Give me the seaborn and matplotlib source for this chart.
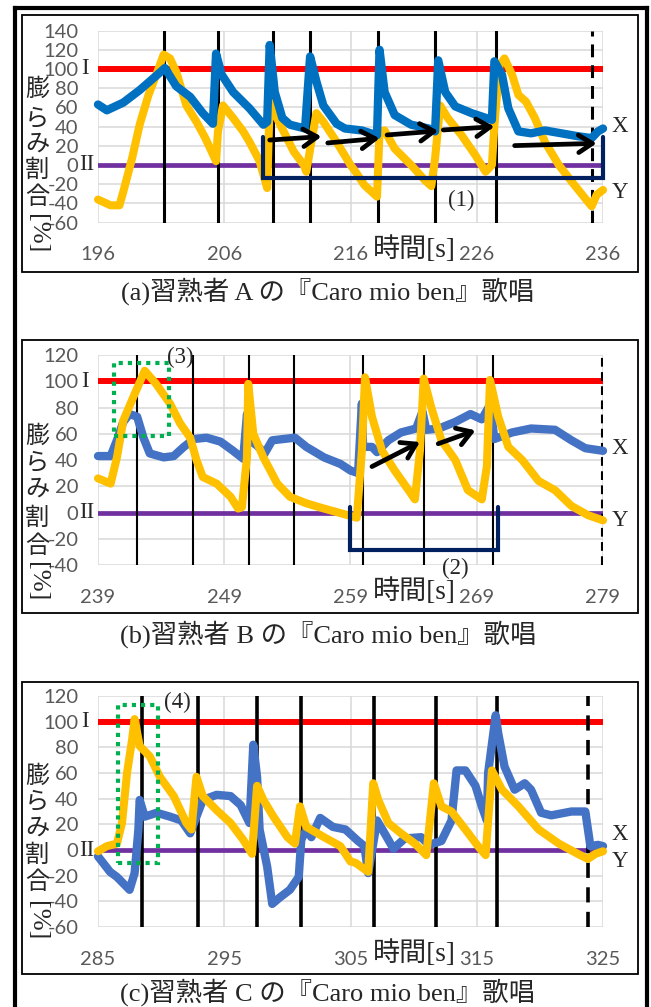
import numpy as np
import pandas as pd
import matplotlib
matplotlib.use("Agg")
import matplotlib.pyplot as plt
import seaborn as sns
from matplotlib.patches import Rectangle
from matplotlib.lines import Line2D

# ---------------- data ----------------
# Panel (a)
a_blue_t = [196.0, 196.7, 198.0, 199.3, 200.7, 201.3, 202.2, 203.3, 204.3, 205.1, 205.35, 205.8, 206.7, 208.0,
            209.1, 209.4, 209.6, 210.0, 210.6, 211.2, 212.4, 212.8, 213.3, 213.85, 214.9, 215.56, 216.9, 218.1,
            218.3, 218.7, 219.5, 220.8, 222.2, 222.7, 222.95, 223.5, 224.3, 225.6, 227.2, 227.4, 228.0, 228.5,
            229.3, 230.3, 231.4, 232.7, 234.0, 235.1, 235.6, 236.0]
a_blue_v = [63, 57, 65, 78, 94, 101, 82, 71, 54, 43, 116, 94, 76, 59,
            42, 45, 125, 76, 49, 42, 38, 113, 87, 62, 43, 38, 36, 31,
            120, 76, 52, 42, 38, 35, 109, 76, 61, 54, 47, 108, 94, 59,
            35, 33, 36, 33, 30, 28, 35, 38]
a_yel_t = [196.0, 197.0, 197.7, 198.0, 198.7, 199.3, 200.0, 200.7, 201.2, 201.7, 202.2, 203.0, 203.8, 204.5,
           205.0, 205.35, 205.5, 205.9, 206.7, 207.5, 208.0, 208.8, 209.4, 209.6, 209.9, 210.7, 211.5, 212.3,
           212.5, 212.9, 213.3, 213.85, 214.9, 216.0, 216.4, 217.1, 218.1, 218.3, 218.7, 219.5, 220.8, 221.9,
           222.4, 222.7, 223.1, 223.7, 224.8, 225.9, 226.7, 227.2, 227.4, 227.8, 228.2, 228.8, 229.3, 229.9,
           230.6, 231.4, 232.5, 233.5, 234.6, 235.1, 235.5, 236.0]
a_yel_v = [-36, -42, -42, -28, 7, 42, 73, 97, 115, 111, 97, 62, 45, 28,
           14, 4, 35, 62, 49, 35, 24, 4, -24, 66, 56, 35, 14, 0,
           -7, 24, 54, 45, 24, 0, -7, -21, -33, 35, 36, 17, 0, -16,
           -22, 7, 62, 49, 31, 10, -7, 0, 42, 104, 111, 94, 73, 66,
           49, 24, 0, -17, -35, -43, -31, -26]
a_marks = [201.2, 205.5, 209.85, 212.8, 218.15, 222.7, 227.55]
a_end = 235.1

# Panel (b)
b_blue_t = [239.0, 240.0, 240.5, 241.0, 241.5, 242.1, 242.6, 243.1, 244.2, 245.0, 245.8, 246.6, 247.6, 248.7,
            249.7, 250.5, 250.8, 251.0, 251.6, 252.2, 252.8, 253.7, 254.6, 255.5, 256.9, 258.2, 259.0, 259.6,
            259.9, 260.0, 260.7, 261.1, 262.0, 263.0, 264.2, 264.7, 265.0, 266.0, 267.3, 268.5, 269.4, 270.05,
            270.4, 271.8, 273.3, 275.2, 276.5, 277.6, 279.0]
b_blue_v = [43, 43, 55, 69, 75, 73, 57, 45, 42, 43, 50, 56, 57, 54,
            47, 41, 75, 55, 51, 45, 55, 56, 57, 50, 42, 37, 32, 30,
            83, 50, 50, 46, 55, 61, 64, 77, 63, 64, 69, 75, 71, 82,
            56, 61, 64, 63, 55, 49, 47]
b_yel_t = [239.0, 240.0, 240.5, 241.0, 241.8, 242.7, 243.6, 244.7, 245.5, 246.3, 246.8, 247.3, 248.4, 249.5,
           250.1, 250.4, 250.8, 250.9, 251.3, 252.1, 253.2, 254.2, 255.5, 256.9, 258.4, 259.5, 259.9, 260.15,
           260.7, 261.5, 262.5, 263.6, 264.1, 264.5, 264.8, 265.4, 266.2, 267.3, 268.3, 269.4, 269.8, 270.05,
           270.7, 271.5, 272.6, 273.9, 275.2, 276.5, 277.8, 279.0]
b_yel_v = [26, 22, 42, 70, 88, 108, 98, 83, 68, 57, 40, 27, 22, 12,
           3, 4, 42, 98, 60, 42, 22, 12, 7, 3, -1, -4, 47, 103,
           73, 47, 32, 17, 10, 47, 102, 80, 55, 40, 17, 10, 35, 101,
           73, 50, 40, 24, 17, 5, -2, -6]
b_marks = [242.07, 246.55, 250.99, 254.53, 260.01, 264.82, 270.26]
b_end = 278.9

# Panel (c)
c_blue_t = [285.0, 285.4, 285.95, 286.5, 287.0, 287.5, 287.9, 288.2, 288.3, 288.7, 289.65, 290.7, 291.6, 292.3,
            292.8, 293.3, 294.4, 295.5, 296.3, 297.0, 297.3, 297.6, 297.8, 298.4, 298.8, 299.4, 300.2, 300.9,
            301.1, 301.5, 301.9, 302.6, 303.6, 304.6, 305.6, 306.1, 306.4, 306.8, 307.1, 307.7, 308.4, 309.3,
            310.6, 311.2, 312.2, 313.0, 313.4, 314.1, 314.9, 315.4, 315.8, 315.9, 316.5, 316.7, 317.2, 318.0,
            318.8, 319.3, 320.1, 320.9, 322.5, 323.6, 324.0, 324.6, 325.0]
c_blue_v = [-5, -10, -17, -21, -26, -31, -18, 16, 39, 26, 29, 26, 23, 13,
            26, 39, 43, 42, 35, 21, 82, 57, 16, -13, -42, -37, -31, -21,
            8, 16, 10, 25, 18, 16, 7, 3, -18, 5, 23, 13, 1, 9,
            10, 4, 7, 23, 62, 62, 50, 34, 23, 60, 105, 91, 65, 47,
            52, 47, 29, 27, 30, 30, 3, 4, 3]
c_yel_t = [285.0, 285.7, 286.5, 286.9, 287.3, 287.7, 287.9, 288.3, 289.1, 289.9, 291.0, 292.0, 292.4, 292.8,
           293.3, 294.4, 295.5, 296.5, 297.2, 297.6, 298.1, 298.9, 300.0, 300.6, 301.0, 301.5, 302.9, 304.2,
           305.0, 305.4, 306.4, 306.8, 307.2, 308.0, 309.0, 310.1, 311.0, 311.6, 312.2, 313.0, 314.1, 315.1,
           315.7, 316.2, 317.0, 318.3, 319.9, 321.5, 323.0, 323.8, 324.4, 325.0]
c_yel_v = [-1, 3, 5, 21, 60, 86, 102, 81, 73, 57, 42, 21, 16, 57,
           42, 31, 21, 8, -3, 50, 39, 26, 10, 5, 34, 18, 10, 3,
           -9, -10, -17, 52, 39, 21, 13, 5, -4, 52, 34, 30, 16, 3,
           -4, 62, 47, 34, 16, 5, -3, -7, -3, -1]
c_marks = [288.52, 292.95, 297.57, 301.06, 306.88, 311.74, 316.57]
c_end = 323.78

a_yticks = [140, 120, 100, 80, 60, 40, 20, 0, -20, -40, -60]
a_ylabels = ["140", "120", "100", "80", "60", "40", "20", "0", "-20", "-40", "-60"]
b_yticks = [120, 100, 80, 60, 40, 20, 0, -20, -40]
b_ylabels = ["120", "100", "80", "60", "40", "20", "0", "-20", "-40"]
c_yticks = [120, 100, 80, 60, 40, 20, 0, -20, -40, -60]
c_ylabels = ["120", "100", "80", "60", "40", "20", "0", "-20", "-40", "-60"]
a_xticks = [196, 206, 216, 226, 236]
b_xticks = [239, 249, 259, 269, 279]
c_xticks = [285, 295, 305, 315, 325]

captions = ["(a)習熟者 A の『Caro mio ben』歌唱",
            "(b)習熟者 B の『Caro mio ben』歌唱",
            "(c)習熟者 C の『Caro mio ben』歌唱"]
ylabel_chars = ["膨", "ら", "み", "割", "合"]

# ---------------- style ----------------
sns.set_style("white")
SERIF = ["Liberation Serif", "Noto Sans CJK JP"]
plt.rcParams["font.family"] = SERIF

W, H = 651, 1007
fig = plt.figure(figsize=(W / 100, H / 100), dpi=100)


def fx(px):
    return px / W


def fy(py):
    return 1 - py / H


BLUE_A = "#0070C0"
BLUE_BC = "#4472C4"
YEL = "#FFC000"
RED = "#FF0000"
PURP = "#7030A0"
NAVY = "#002060"
GREEN = "#00B050"
GRAY = "#595959"


def panel(top_px, bot_px, xticks, yticks, ylabels, bt, bv, yt, yv, blue, marks, end,
          mark_lw, blue_on_top, xy_lab, ychar_py, cap_py, caption, box):
    ax = fig.add_axes([fx(98), fy(bot_px), fx(603) - fx(98), (bot_px - top_px) / H])
    ax.set_xlim(xticks[0], xticks[-1])
    ax.set_ylim(yticks[-1], yticks[0])
    ax.set_xticks(xticks)
    ax.set_xticklabels([str(t) for t in xticks])
    ax.set_yticks(yticks)
    ax.set_yticklabels(ylabels)
    ax.grid(True, color="#D9D9D9", lw=1.1)
    ax.set_axisbelow(True)
    for s in ax.spines.values():
        s.set_visible(False)
    ax.tick_params(axis="y", length=0, pad=14, labelsize=14.5, labelcolor=GRAY)
    ax.tick_params(axis="x", length=0, pad=17, labelsize=14.5, labelcolor=GRAY)
    for lab in ax.get_xticklabels() + ax.get_yticklabels():
        lab.set_fontfamily("Lato")
    ax.axhline(100, color=RED, lw=4.3, zorder=2)
    ax.axhline(0, color=PURP, lw=3.4, zorder=2)
    for m in marks:
        ax.axvline(m, color="black", lw=mark_lw, zorder=2.5)
    ax.axvline(end, color="black", lw=mark_lw, ls=(0, (4.2, 2.6)), zorder=2.5)

    dfb = pd.DataFrame({"t": bt, "v": bv})
    dfy = pd.DataFrame({"t": yt, "v": yv})
    zb, zy = (3.2, 3.0) if blue_on_top else (3.0, 3.2)
    sns.lineplot(data=dfy, x="t", y="v", ax=ax, color=YEL, lw=5.8, sort=False, estimator=None,
                 clip_on=False, zorder=zy, solid_joinstyle="round", solid_capstyle="round")
    sns.lineplot(data=dfb, x="t", y="v", ax=ax, color=blue, lw=6.0, sort=False, estimator=None,
                 clip_on=False, zorder=zb, solid_joinstyle="round", solid_capstyle="round")
    ax.set_xlabel("")
    ax.set_ylabel("")

    # I / II
    for val, lab, off in [(100, "I", -13), (0, "II", -11)]:
        ax.annotate(lab, xy=(0, val), xycoords=("axes fraction", "data"), textcoords="offset pixels",
                    xytext=(off, 0), ha="center", va="center", fontsize=16.5, family=SERIF)
    # X / Y
    for val, lab in zip(xy_lab, ["X", "Y"]):
        ax.annotate(lab, xy=(1, val), xycoords=("axes fraction", "data"), textcoords="offset pixels",
                    xytext=(17, 0), ha="center", va="center", fontsize=16.5, family=SERIF,
                    annotation_clip=False)
    # x label
    fig.text(fx(414), fy(bot_px + 27), "時間[s]", ha="center", va="center", fontsize=19.5, family=SERIF)
    # y label
    for ch, py in zip(ylabel_chars, ychar_py[:5]):
        fig.text(fx(37), fy(py), ch, ha="center", va="center", fontsize=17.5, family=["Noto Sans CJK JP"])
    fig.text(fx(37), fy(ychar_py[5]), "[%]", ha="center", va="center", fontsize=19, rotation=-90,
             family=SERIF)
    # caption
    fig.text(fx(328), fy(cap_py), caption, ha="center", va="center", fontsize=19, family=SERIF)
    # panel box
    fig.add_artist(Rectangle((fx(box[0]), fy(box[3])), fx(box[2]) - fx(box[0]), (box[3] - box[1]) / H,
                             transform=fig.transFigure, fill=False, ec="black", lw=1.3))
    return ax


axA = panel(30.6, 222.6, a_xticks, a_yticks, a_ylabels, a_blue_t, a_blue_v, a_yel_t, a_yel_v, BLUE_A,
            a_marks, a_end, 2.2, True, (40, -29), [89, 118, 144, 170, 197, 234], 291, captions[0],
            (22, 15, 638, 272))
axB = panel(355, 565, b_xticks, b_yticks, b_ylabels, b_blue_t, b_blue_v, b_yel_t, b_yel_v, BLUE_BC,
            b_marks, b_end, 1.5, False, (49, -6), [436, 462, 489, 518, 546, 582], 634, captions[1],
            (22, 340, 638, 613))
axC = panel(696, 927, c_xticks, c_yticks, c_ylabels, c_blue_t, c_blue_v, c_yel_t, c_yel_v, BLUE_BC,
            c_marks, c_end, 2.6, False, (12, -9), [776, 801, 828, 855, 882, 921], 992, captions[2],
            (22, 682, 638, 974))

arrow_kw = dict(arrowstyle="->,head_length=0.55,head_width=0.35", color="black", lw=3.4,
                mutation_scale=18, shrinkA=0, shrinkB=0)

# (a) annotations
for x0, y0, x1, y1 in [(209.6, 26, 213.7, 29.6), (214.2, 23, 218.3, 27.8), (218.9, 31.3, 222.95, 35.5),
                       (223.35, 36.5, 227.4, 40), (229.0, 20.2, 235.5, 22.6)]:
    axA.annotate("", xy=(x1, y1), xytext=(x0, y0), arrowprops=arrow_kw, zorder=5)
axA.plot([209.1, 209.1, 236, 236], [29.5, -13.8, -13.8, 29.5], color=NAVY, lw=3, clip_on=False, zorder=4,
         solid_joinstyle="miter")
axA.text(224.8, -36.5, "(1)", ha="center", va="center", fontsize=16.5, zorder=6)

# (b) annotations
for x0, y0, x1, y1 in [(260.7, 35, 264.5, 53.7), (265.95, 52.4, 268.9, 62.6)]:
    axB.annotate("", xy=(x1, y1), xytext=(x0, y0), arrowprops=arrow_kw, zorder=5)
axB.plot([258.96, 258.96, 270.65, 270.65], [4.1, -28.5, -28.5, 4.1], color=NAVY, lw=3, clip_on=False,
         zorder=4, solid_joinstyle="miter")
axB.text(267.3, -42.7, "(2)", ha="center", va="center", fontsize=16.5, zorder=6, clip_on=False)
axB.add_patch(Rectangle((240.27, 58), 244.65 - 240.27, 114 - 58, fill=False, ec=GREEN, lw=3,
                        ls=(0, (1, 1.2)), zorder=5, clip_on=False))
axB.text(245.5, 118.3, "(3)", ha="center", va="center", fontsize=16.5, zorder=6, clip_on=False)

# (c) annotations
axC.add_patch(Rectangle((286.6, -9.9), 289.73 - 286.6, 113.3 + 9.9, fill=False, ec=GREEN, lw=3,
                        ls=(0, (1, 1.2)), zorder=5, clip_on=False))
axC.text(291.26, 114.8, "(4)", ha="center", va="center", fontsize=16.5, zorder=6, clip_on=False)

# outer border
for xs, ys in [([15, 15], [7.5, 1010]), ([15, 647], [7.5, 7.5]), ([647, 647], [7.5, 1010])]:
    fig.add_artist(Line2D([fx(v) for v in xs], [fy(v) for v in ys], transform=fig.transFigure,
                          color="black", lw=3, solid_capstyle="projecting"))

fig.savefig("out.png", dpi=100)
